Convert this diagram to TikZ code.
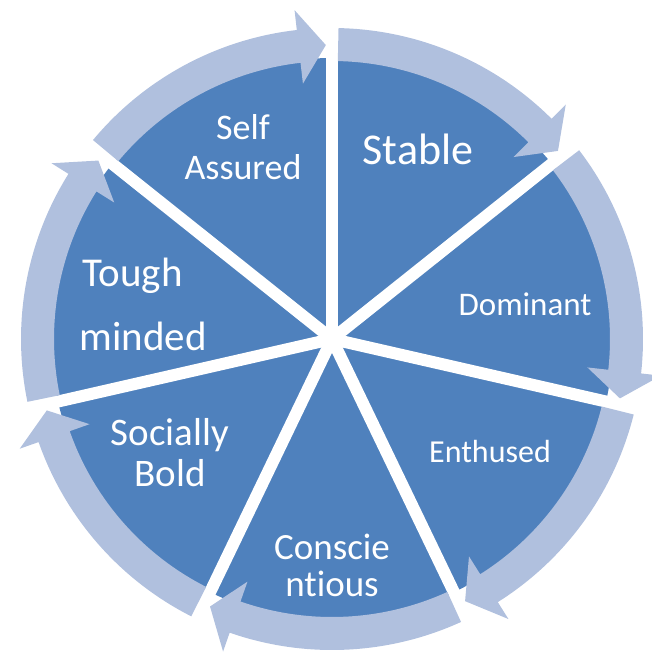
\documentclass[tikz,border=0pt]{standalone}
\usepackage{fontspec}
\setmainfont{Carlito}[Ligatures=NoCommon]
\definecolor{pieblue}{RGB}{79,129,189}
\definecolor{ringblue}{RGB}{176,192,222}
\tikzset{
  spoke/.style={draw=white, line width=12pt},
  ringarrow/.style={fill=ringblue},
  lbl/.style={text=white, align=center, inner sep=0pt},
}
\begin{document}
\begin{tikzpicture}[x=1pt,y=1pt]
\useasboundingbox (0,0) rectangle (651,-652);
\begin{scope}[shift={(332,-339)}]
  % the pie of seven sectors
  \fill[pieblue] (0,0) circle[radius=281];
  \foreach \k in {0,...,6}
    \draw[spoke] (0,0) -- ({90-\k*360/7}:300);
  % curved arrows running clockwise round the pie
  \foreach \k in {0,...,6}{
    \pgfmathsetmacro\a{90-\k*360/7}
    \pgfmathsetmacro\b{\a-360/7}
    \pgfmathsetmacro\s{\a-1.2}
    \pgfmathsetmacro\h{\b+6.5}
    \pgfmathsetmacro\t{\b+1.2}
    \fill[ringarrow] (\s:311) arc[start angle=\s, end angle=\h, radius=311]
      -- (\h:331) -- (\t:294) -- (\h:257) -- (\h:278)
      arc[start angle=\h, end angle=\s, radius=278] -- cycle;
  }
\end{scope}
% sector labels
\node[lbl, font=\fontsize{36}{40}\selectfont] (self) at (243,-147) {Self\\Assured};
\node[lbl, font=\fontsize{44}{48}\selectfont] (stable) at (418,-149) {Stable};
\node[lbl, font=\fontsize{33}{38}\selectfont] (dominant) at (525,-304) {Dominant};
\node[lbl, font=\fontsize{32}{36}\selectfont] (enthused) at (490,-452) {Enthused};
\node[lbl, font=\fontsize{37}{37}\selectfont] (consc) at (332,-565) {Conscie\\ntious};
\node[lbl, font=\fontsize{39}{41}\selectfont] (socially) at (170,-453) {Socially\\Bold};
\node[lbl, align=left, font=\fontsize{41}{64}\selectfont] (tough) at (143,-304) {\hspace*{3pt}Tough\\minded};
\end{tikzpicture}
\end{document}
